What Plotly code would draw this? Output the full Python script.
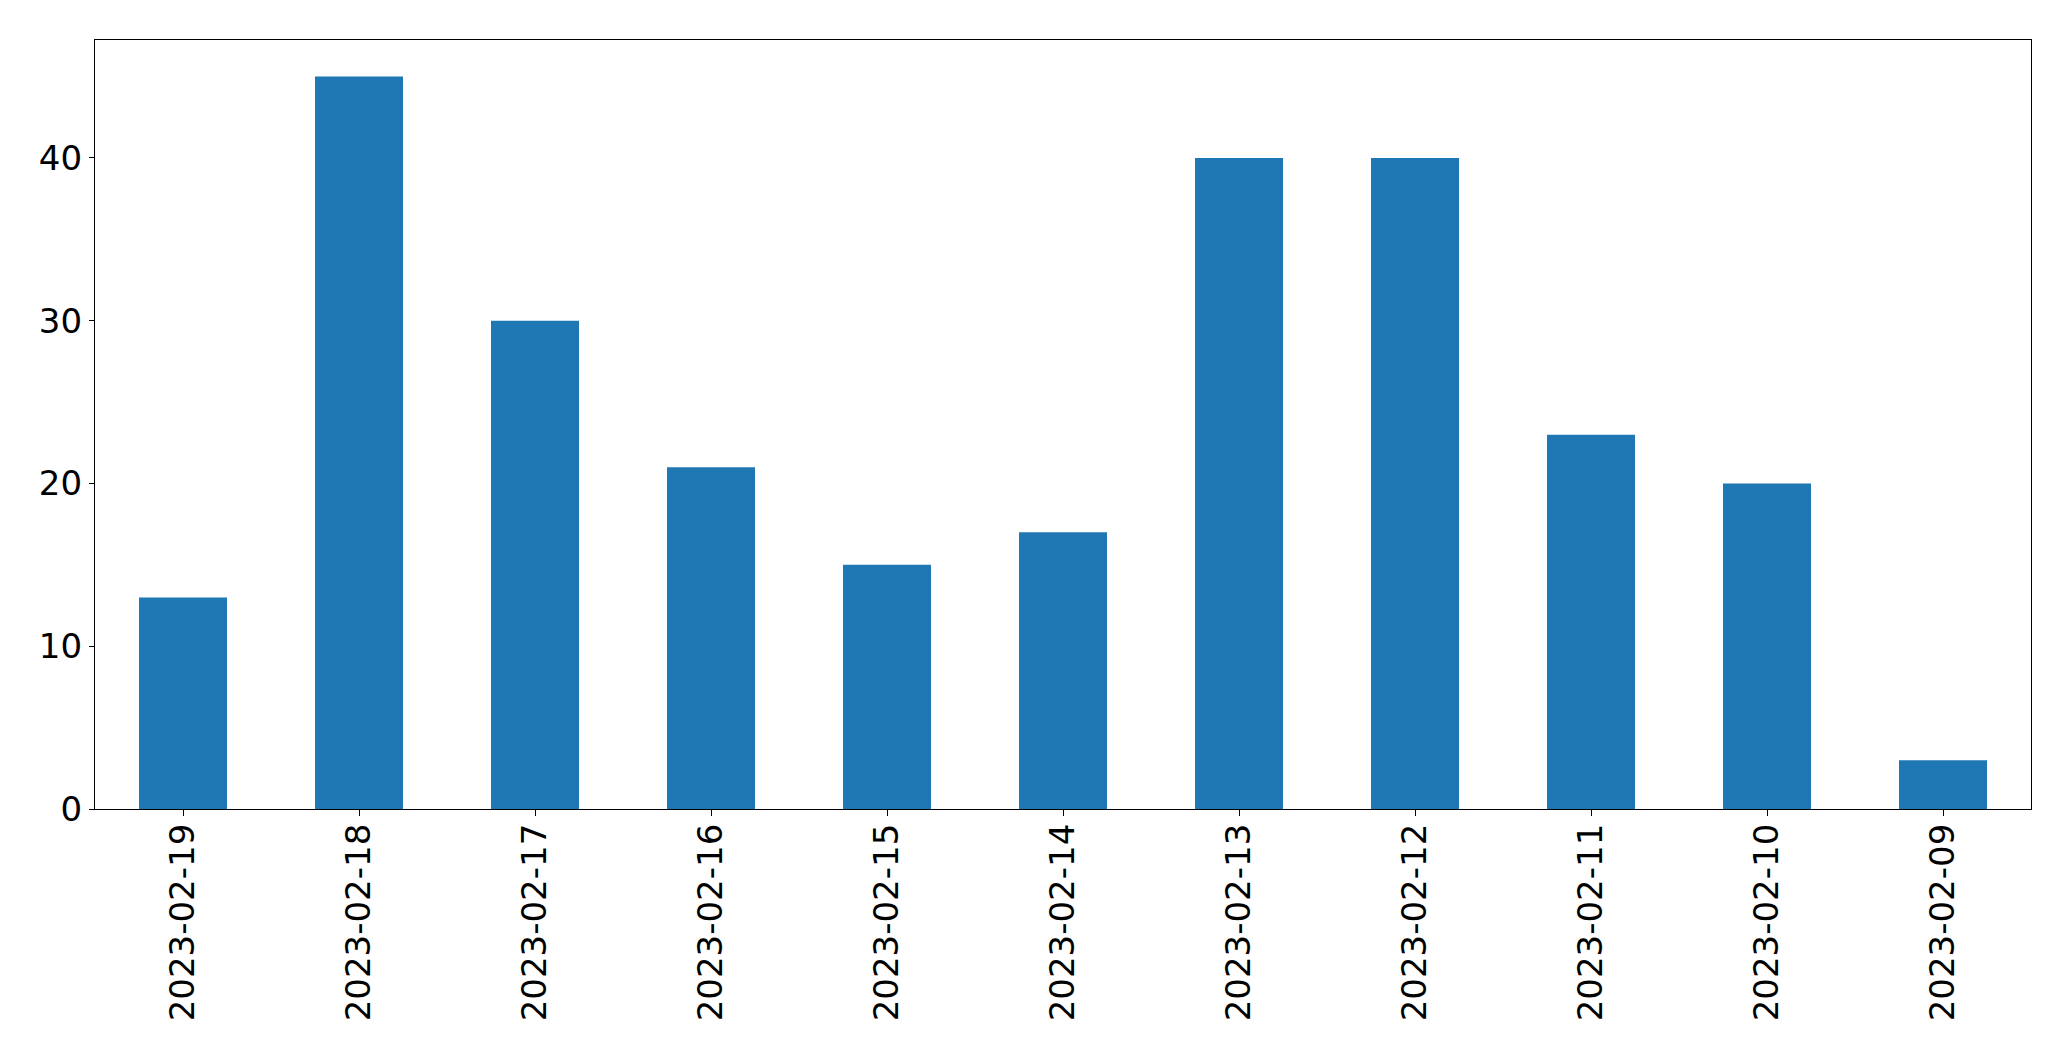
import plotly.graph_objects as go

dates = ["2023-02-19", "2023-02-18", "2023-02-17", "2023-02-16", "2023-02-15",
         "2023-02-14", "2023-02-13", "2023-02-12", "2023-02-11", "2023-02-10", "2023-02-09"]
counts = [13, 45, 30, 21, 15, 17, 40, 40, 23, 20, 3]
y_ticks = [0, 10, 20, 30, 40]

fig = go.Figure(go.Bar(x=dates, y=counts, marker_color="#1f77b4", marker_line_width=0, width=0.5))

# page body has an 8px margin, so the figure is offset by 8px
fig.update_layout(
    width=2055, height=1045,
    margin=dict(l=87, r=32, t=32, b=244, autoexpand=False),
    plot_bgcolor="white", paper_bgcolor="white",
    font=dict(family="DejaVu Sans", size=34, color="black"),
    showlegend=False,
)
fig.update_xaxes(
    type="category", range=[-0.5, len(dates) - 0.5],
    tickangle=-90, ticks="outside", ticklen=6, tickwidth=1.2, tickcolor="black",
    showline=True, linecolor="black", linewidth=1.3, mirror=True,
    showgrid=False, zeroline=False, tickfont=dict(size=34),
    ticklabelstandoff=-6,
)
fig.update_yaxes(
    range=[0, max(counts) * 1.05], tickvals=y_ticks,
    ticks="outside", ticklen=5, tickwidth=1.2, tickcolor="black",
    showline=True, linecolor="black", linewidth=1.3, mirror=True,
    showgrid=False, zeroline=False, tickfont=dict(size=34),
)

fig.write_html("out.html")
